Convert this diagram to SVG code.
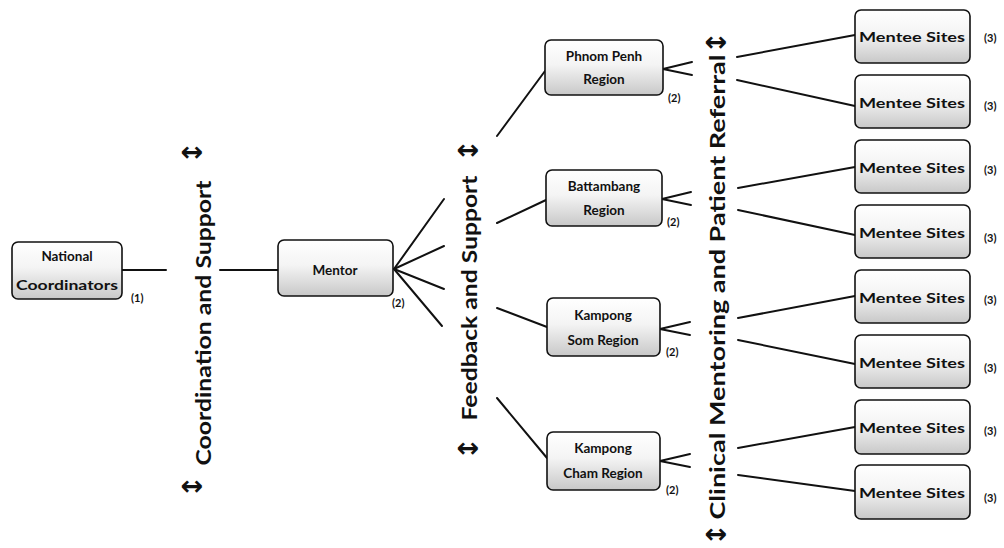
<svg xmlns="http://www.w3.org/2000/svg" width="1004" height="548" viewBox="0 0 1004 548">
<defs>
<linearGradient id="g" x1="0" y1="0" x2="0" y2="1">
<stop offset="0" stop-color="#ffffff"/>
<stop offset="0.45" stop-color="#f4f4f4"/>
<stop offset="1" stop-color="#c8c8c8"/>
</linearGradient>
<style>
.box{fill:url(#g);stroke:#111;stroke-width:1.6}
.t{font-family:Lato,"Liberation Sans",sans-serif;font-weight:bold;font-size:13.5px;fill:#111;text-anchor:middle}
.n{font-family:Lato,"Liberation Sans",sans-serif;font-weight:bold;font-size:11px;fill:#111}
.big{font-family:Lato,"Liberation Sans",sans-serif;font-weight:bold;font-size:20px;fill:#111;text-anchor:middle}
.arr{font-family:"DejaVu Sans",sans-serif;font-weight:bold;font-size:27px;fill:#111;text-anchor:middle}
.c line{stroke:#111;stroke-width:2;stroke-linecap:round}
</style>
</defs>
<rect width="1004" height="548" fill="#fff"/>

<g class="c" id="connectors">
<line x1="122" y1="270" x2="166" y2="270"/>
<line x1="220" y1="270" x2="278" y2="270"/>
<line x1="394" y1="269" x2="444" y2="199"/>
<line x1="394" y1="269" x2="444" y2="246"/>
<line x1="394" y1="269" x2="444" y2="289"/>
<line x1="394" y1="269" x2="442" y2="326"/>
<line x1="497" y1="136" x2="545" y2="71"/>
<line x1="497" y1="223" x2="546" y2="200"/>
<line x1="497" y1="308" x2="547" y2="327"/>
<line x1="497" y1="398" x2="547" y2="458"/>
<line x1="663" y1="69" x2="692" y2="62"/>
<line x1="663" y1="69" x2="692" y2="75"/>
<line x1="662" y1="199" x2="691" y2="192"/>
<line x1="662" y1="199" x2="691" y2="205"/>
<line x1="660" y1="329" x2="690" y2="322"/>
<line x1="660" y1="329" x2="690" y2="335"/>
<line x1="660" y1="461" x2="690" y2="454"/>
<line x1="660" y1="461" x2="690" y2="467"/>
<line x1="737" y1="57" x2="855" y2="35"/>
<line x1="737" y1="80" x2="855" y2="106"/>
<line x1="738" y1="188" x2="855" y2="167"/>
<line x1="738" y1="210" x2="855" y2="235"/>
<line x1="738" y1="318" x2="855" y2="296"/>
<line x1="738" y1="340" x2="855" y2="364"/>
<line x1="738" y1="448" x2="855" y2="427"/>
<line x1="738" y1="475" x2="855" y2="491"/>
</g>

<g id="national">
<rect class="box" x="12" y="242" width="110" height="57" rx="6"/>
<text class="t" x="67" y="261">National</text>
<text class="t" x="67" y="290" textLength="102" lengthAdjust="spacingAndGlyphs">Coordinators</text>
<text class="n" x="131" y="302">(1)</text>
</g>

<g id="coordination-label">
<text class="arr" x="192" y="161">↔</text>
<text class="big" transform="translate(211 323) rotate(-90)" textLength="285" lengthAdjust="spacingAndGlyphs">Coordination  and  Support</text>
<text class="arr" x="192" y="495">↔</text>
</g>

<g id="mentor">
<rect class="box" x="278" y="240" width="115" height="56" rx="6"/>
<text class="t" x="335" y="275">Mentor</text>
<text class="n" x="392" y="307">(2)</text>
</g>

<g id="feedback-label">
<text class="arr" x="468" y="159">↔</text>
<text class="big" transform="translate(477 298) rotate(-90)" textLength="245" lengthAdjust="spacingAndGlyphs">Feedback and Support</text>
<text class="arr" x="468" y="457">↔</text>
</g>

<g id="phnom-penh">
<rect class="box" x="545" y="40" width="118" height="55" rx="6"/>
<text class="t" x="604" y="61">Phnom Penh</text>
<text class="t" x="604" y="84">Region</text>
<text class="n" x="668" y="102">(2)</text>
</g>

<g id="battambang">
<rect class="box" x="546" y="170" width="116" height="56" rx="6"/>
<text class="t" x="604" y="191">Battambang</text>
<text class="t" x="604" y="215">Region</text>
<text class="n" x="667" y="226">(2)</text>
</g>

<g id="kampong-som">
<rect class="box" x="547" y="298" width="113" height="58" rx="6"/>
<text class="t" x="603" y="320">Kampong</text>
<text class="t" x="603" y="345">Som Region</text>
<text class="n" x="666" y="356">(2)</text>
</g>

<g id="kampong-cham">
<rect class="box" x="547" y="432" width="113" height="58" rx="6"/>
<text class="t" x="603" y="453">Kampong</text>
<text class="t" x="603" y="478">Cham Region</text>
<text class="n" x="666" y="494">(2)</text>
</g>

<g id="clinical-label">
<text class="arr" x="716" y="51">↔</text>
<text class="big" transform="translate(725 287) rotate(-90)" textLength="465" lengthAdjust="spacingAndGlyphs">Clinical  Mentoring  and  Patient  Referral</text>
<text class="arr" x="716" y="543">↔</text>
</g>

<g id="mentee-1"><rect class="box" x="855" y="10" width="115" height="53" rx="6"/><text class="t" x="912" y="42" textLength="106" lengthAdjust="spacingAndGlyphs">Mentee Sites</text><text class="n" x="984" y="42">(3)</text></g>
<g id="mentee-2"><rect class="box" x="855" y="75" width="115" height="53" rx="6"/><text class="t" x="912" y="108" textLength="106" lengthAdjust="spacingAndGlyphs">Mentee Sites</text><text class="n" x="984" y="110">(3)</text></g>
<g id="mentee-3"><rect class="box" x="855" y="140" width="115" height="53" rx="6"/><text class="t" x="912" y="173" textLength="106" lengthAdjust="spacingAndGlyphs">Mentee Sites</text><text class="n" x="984" y="174">(3)</text></g>
<g id="mentee-4"><rect class="box" x="855" y="205" width="115" height="53" rx="6"/><text class="t" x="912" y="238" textLength="106" lengthAdjust="spacingAndGlyphs">Mentee Sites</text><text class="n" x="984" y="242">(3)</text></g>
<g id="mentee-5"><rect class="box" x="855" y="270" width="115" height="53" rx="6"/><text class="t" x="912" y="303" textLength="106" lengthAdjust="spacingAndGlyphs">Mentee Sites</text><text class="n" x="984" y="304">(3)</text></g>
<g id="mentee-6"><rect class="box" x="855" y="335" width="115" height="53" rx="6"/><text class="t" x="912" y="368" textLength="106" lengthAdjust="spacingAndGlyphs">Mentee Sites</text><text class="n" x="984" y="372">(3)</text></g>
<g id="mentee-7"><rect class="box" x="855" y="400" width="115" height="54" rx="6"/><text class="t" x="912" y="433" textLength="106" lengthAdjust="spacingAndGlyphs">Mentee Sites</text><text class="n" x="984" y="435">(3)</text></g>
<g id="mentee-8"><rect class="box" x="855" y="465" width="115" height="54" rx="6"/><text class="t" x="912" y="498" textLength="106" lengthAdjust="spacingAndGlyphs">Mentee Sites</text><text class="n" x="984" y="502">(3)</text></g>
</svg>
